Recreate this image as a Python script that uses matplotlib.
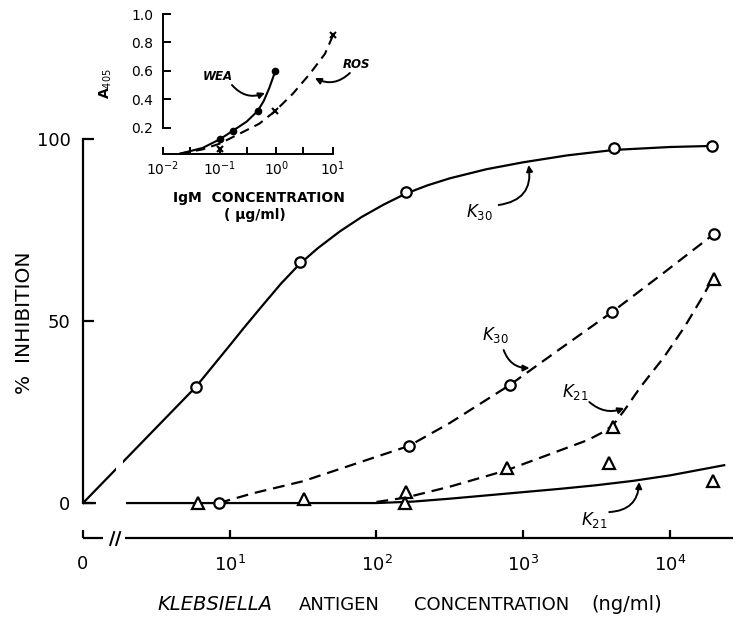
import numpy as np
import matplotlib
matplotlib.use("Agg")
import matplotlib.pyplot as plt
from matplotlib.patches import Rectangle

plt.rcParams['font.family'] = ['DejaVu Sans']
plt.rcParams['lines.scale_dashes'] = False

# ---------------- data (main plot) ----------------
# antigen concentration (ng/ml); the "0" concentration is drawn at x = 1
x_ticks = [1, 10, 100, 1000, 10000]
x_ticklabels = ["0", "$10^{1}$", "$10^{2}$", "$10^{3}$", "$10^{4}$"]
y_ticks = [0, 50, 100]

k30_solid_x = [5.9, 30, 158, 4170, 19300]
k30_solid_y = [31.9, 66.2, 85.4, 97.5, 98.1]
k30_dash_x = [8.4, 167, 809, 4050, 19900]
k30_dash_y = [0.0, 15.7, 32.4, 52.5, 73.9]
k21_dash_x = [159, 771, 4110, 19900]
k21_dash_y = [3.0, 9.6, 20.9, 61.5]
k21_solid_x = [6.1, 32, 157, 3870, 19600]
k21_solid_y = [0.0, 1.1, 0.0, 11.0, 6.0]

# hand-drawn fitted curves (log10 concentration, % inhibition)
k30_fit_logx = [0, 0.769, 1.0, 1.1, 1.224, 1.35, 1.475, 1.6, 1.75, 1.9, 2.05, 2.2, 2.35, 2.5,
                2.75, 3.0, 3.3, 3.62, 4.0, 4.29]
k30_fit_y = [0, 31.9, 43.3, 48.3, 54.3, 60.3, 65.6, 70.0, 74.6, 78.6, 82.0, 85.0, 87.3, 89.2,
             91.7, 93.6, 95.5, 97.0, 97.8, 98.1]
k30d_fit_logx = [0.925, 1.16, 1.5, 1.835, 2.222, 2.5, 2.908, 3.25, 3.607, 3.95, 4.30]
k30d_fit_y = [0.0, 2.7, 6.0, 10.5, 15.7, 22.0, 32.4, 42.3, 52.5, 63.0, 73.9]
k21d_fit_logx = [2.0, 2.2, 2.5, 2.887, 3.26, 3.44, 3.55, 3.614, 3.69, 3.80, 3.96, 4.10, 4.21, 4.29]
k21d_fit_y = [0.3, 1.5, 4.5, 9.0, 14.6, 17.3, 19.6, 21.5, 25.5, 31.9, 40.1, 48.4, 55.8, 61.5]
k21_fit_logx = [0, 2.0, 2.25, 2.5, 2.75, 3.0, 3.25, 3.5, 3.75, 4.0, 4.37]
k21_fit_y = [0, 0, 0.4, 1.2, 2.1, 3.0, 3.9, 4.9, 6.1, 7.6, 10.4]

# ---------------- data (inset) ----------------
igm_ticks = [0.01, 0.1, 1, 10]
igm_ticklabels = ["$10^{-2}$", "$10^{-1}$", "$10^{0}$", "$10^{1}$"]
a405_ticks = [0.2, 0.4, 0.6, 0.8, 1.0]
wea_x = [0.1, 0.17, 0.47, 0.96]
wea_y = [0.12, 0.18, 0.32, 0.60]
ros_x = [0.1, 0.96, 10]
ros_y = [0.05, 0.32, 0.85]
wea_fit_x = [0.02, 0.05, 0.1, 0.17, 0.3, 0.47, 0.6, 0.75, 0.96]
wea_fit_y = [0.02, 0.06, 0.12, 0.18, 0.245, 0.32, 0.39, 0.48, 0.60]
ros_fit_x = [0.02, 0.05, 0.1, 0.2, 0.5, 0.96, 1.95, 3.9, 7.2, 10]
ros_fit_y = [0.02, 0.05, 0.09, 0.15, 0.23, 0.32, 0.44, 0.58, 0.72, 0.85]

W, H = 736, 619
fig = plt.figure(figsize=(W / 100, H / 100), dpi=100)

def px2x(px):
    return 10 ** (1 + (px - 227) / 147.3)

def py2y(py):
    return (503 - py) / 3.64

# ---------------- main axes ----------------
ax = fig.add_axes([83 / W, (H - 538) / H, (733 - 83) / W, (538 - 139) / H])
ax.set_xscale('log')
ax.set_xlim(1, 10 ** 4.43)
ax.set_ylim(-9.6, 100)
for s in ['top', 'right', 'bottom']:
    ax.spines[s].set_visible(False)
ax.spines['left'].set_bounds(0, 100)
ax.spines['left'].set_linewidth(1.6)
ax.set_xticks(x_ticks)
ax.set_xticklabels(x_ticklabels)
ax.xaxis.set_minor_locator(matplotlib.ticker.NullLocator())
ax.set_yticks(y_ticks)
ax.set_yticklabels([str(v) for v in y_ticks])
ax.tick_params(axis='x', direction='in', length=6, width=1.6, pad=12, labelsize=13)
ax.tick_params(axis='y', direction='in', length=8, width=1.6, pad=9, labelsize=13)

lw = 1.6
ax.plot(10 ** np.array(k30_fit_logx), k30_fit_y, color='black', lw=lw, zorder=2)
ax.plot(10 ** np.array(k21_fit_logx), k21_fit_y, color='black', lw=lw, zorder=2)
ax.plot(10 ** np.array(k30d_fit_logx), k30d_fit_y, color='black', lw=lw, ls=(0, (8.5, 5)), zorder=2)
ax.plot(10 ** np.array(k21d_fit_logx), k21d_fit_y, color='black', lw=lw, ls=(0, (8.5, 5)), zorder=2)

# gaps near the axis break
ax.add_patch(Rectangle((px2x(93), -2.5), px2x(123) - px2x(93), 5, facecolor='white', edgecolor='none', zorder=2.5))
ax.add_patch(Rectangle((px2x(113), 5.5), px2x(120) - px2x(113), 6.5, facecolor='white', edgecolor='none', zorder=2.5))

mk = dict(color='black', ls='none', markerfacecolor='white', markeredgewidth=1.6, zorder=3, clip_on=False)
ax.plot(k30_solid_x, k30_solid_y, marker='o', markersize=7.5, **mk)
ax.plot(k30_dash_x, k30_dash_y, marker='o', markersize=7.5, **mk)
ax.plot(k21_dash_x, k21_dash_y, marker='^', markersize=8.5, **mk)
ax.plot(k21_solid_x, k21_solid_y, marker='^', markersize=8.5, **mk)

# broken x axis line
ax.plot([1, px2x(100)], [-9.6, -9.6], color='black', lw=1.6, clip_on=False, solid_capstyle='butt')
ax.plot([px2x(122), 10 ** 4.43], [-9.6, -9.6], color='black', lw=1.6, clip_on=False, solid_capstyle='butt')
for p in (107, 113):
    ax.plot([px2x(p), px2x(p + 4)], [py2y(545), py2y(532)], color='black', lw=1.4, clip_on=False)

ak = dict(arrowstyle='-|>', color='black', lw=1.4, mutation_scale=9, shrinkA=0, shrinkB=0)
def klabel(text, tx, ty, sx, sy, ex, ey, rad):
    ax.text(px2x(tx), py2y(ty), text, ha='center', va='center', fontsize=12)
    ax.annotate('', xy=(px2x(ex), py2y(ey)), xytext=(px2x(sx), py2y(sy)),
                arrowprops=dict(connectionstyle=f'arc3,rad={rad}', **ak), annotation_clip=False)

klabel(r'$\mathit{K}_{\mathit{30}}$', 478, 212, 497, 205, 527, 165, 0.5)
klabel(r'$\mathit{K}_{\mathit{30}}$', 494, 335, 502, 350, 528, 368, 0.35)
klabel(r'$\mathit{K}_{\mathit{21}}$', 574, 392, 588, 402, 623, 408, 0.3)
klabel(r'$\mathit{K}_{\mathit{21}}$', 593, 520, 608, 512, 638, 482, 0.45)

# axis titles (words placed as in the reference lettering)
fig.text(23 / W, 1 - 305 / H, 'INHIBITION', rotation=90, ha='center', va='center', fontsize=14.5)
fig.text(23 / W, 1 - 383 / H, '%', rotation=90, ha='center', va='center', fontsize=14.5)
ylab_y = 1 - 605 / H
fig.text(215 / W, ylab_y, 'KLEBSIELLA', ha='center', va='center', fontsize=14, style='italic')
fig.text(339 / W, ylab_y, 'ANTIGEN', ha='center', va='center', fontsize=13)
fig.text(492 / W, ylab_y, 'CONCENTRATION', ha='center', va='center', fontsize=13)
fig.text(627 / W, ylab_y, '(ng/ml)', ha='center', va='center', fontsize=14)

# ---------------- inset ----------------
ia = fig.add_axes([163 / W, (H - 154) / H, 170 / W, 140 / H])
ia.set_facecolor('none')
ia.set_xscale('log')
ia.set_xlim(0.01, 10)
ia.set_ylim(0.0175, 1.0)
for s in ['top', 'right']:
    ia.spines[s].set_visible(False)
ia.spines['left'].set_bounds(0.2, 1.0)
ia.spines['left'].set_linewidth(1.4)
ia.spines['bottom'].set_linewidth(1.4)
ia.set_xticks(igm_ticks)
ia.set_xticklabels(igm_ticklabels)
ia.set_xticks([0.03, 0.3, 3], minor=True)
ia.set_yticks(a405_ticks)
ia.set_yticklabels([f'{v:.1f}' for v in a405_ticks])
ia.tick_params(axis='x', which='both', direction='in', length=5, width=1.4, pad=4, labelsize=10)
ia.tick_params(axis='y', direction='in', length=6, width=1.4, pad=7, labelsize=10)

ia.plot(wea_fit_x, wea_fit_y, color='black', lw=1.5, clip_on=False)
ia.plot(ros_fit_x, ros_fit_y, color='black', lw=1.5, ls=(0, (7, 4.5)), clip_on=False)
ia.plot(wea_x, wea_y, ls='none', marker='o', markersize=4.5, color='black', clip_on=False)
ia.plot(ros_x, ros_y, ls='none', marker='x', markersize=5, markeredgewidth=1.5, color='black', clip_on=False)

def ipx(px):
    return 10 ** (-2 + (px - 163) / 56.7)

def ipy(py):
    return (156.5 - py) / 142.5

ia.text(ipx(218), ipy(77), 'WEA', ha='center', va='center', fontsize=8.5, fontweight='bold', style='italic')
ia.annotate('', xy=(ipx(265), ipy(93)), xytext=(ipx(232), ipy(85)),
            arrowprops=dict(connectionstyle='arc3,rad=0.35', **ak), annotation_clip=False)
ia.text(ipx(357), ipy(65), 'ROS', ha='center', va='center', fontsize=8.5, fontweight='bold', style='italic')
ia.annotate('', xy=(ipx(315), ipy(78)), xytext=(ipx(350), ipy(73)),
            arrowprops=dict(connectionstyle='arc3,rad=-0.35', **ak), annotation_clip=False)

fig.text(106 / W, 1 - 84 / H, r'A$_{405}$', rotation=90, ha='center', va='center', fontsize=10, fontweight='bold')
fig.text(259 / W, 1 - 198 / H, 'IgM  CONCENTRATION', ha='center', va='center', fontsize=10, fontweight='bold')
fig.text(255 / W, 1 - 215 / H, '( μg/ml)', ha='center', va='center', fontsize=10, fontweight='bold')

fig.savefig('out.png', dpi=100, facecolor='white')
